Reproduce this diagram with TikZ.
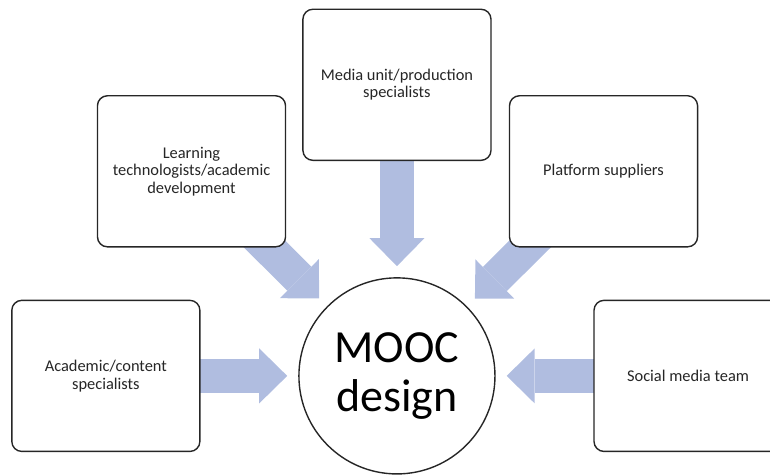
\documentclass[tikz,border=0pt]{standalone}
\usepackage{fontspec}
\setmainfont{Carlito}
\usetikzlibrary{arrows.meta, positioning, backgrounds}
\definecolor{flowblue}{HTML}{B0BDE0}
\definecolor{inkgrey}{HTML}{262626}

\tikzset{
  group/.style={draw=inkgrey, line width=1.4pt, fill=white, rounded corners=10pt,
    minimum width=6.61cm, minimum height=5.31cm, align=center, text=inkgrey,
    font=\fontsize{16.4}{17.5}\selectfont},
  flow/.style={draw=flowblue, line width=34pt, shorten >=11pt,
    -{Triangle[length=28pt, width=55pt, line width=0pt]}}
}

\begin{document}
\begin{tikzpicture}
  \useasboundingbox (-13.95,-3.48) rectangle (13.11,13.21);
  % centre
  \node[draw=inkgrey, line width=1.4pt, circle, minimum size=6.89cm, inner sep=0pt,
        align=center, font=\fontsize{46}{49}\selectfont] (mooc) at (0,0)
    {MOOC\\design};
  % contributing groups
  \node[group] (media) at (0,10.23) {Media unit/production\\specialists};
  \node[group] (learning) at (-7.22,7.19)
    {Learning\\technologists/academic\\development};
  \node[group] (platform) at (7.26,7.19) {Platform suppliers};
  \node[group] (academic) at (-10.23,0) {Academic/content\\specialists};
  \node[group] (social) at (10.23,0) {Social media team};
  % block arrows, tucked under the boxes
  \begin{scope}[on background layer]
    \draw[flow] (media.center) -- (mooc);
    \draw[flow] (learning.center) -- (mooc);
    \draw[flow] (platform.center) -- (mooc);
    \draw[flow] (academic.center) -- (mooc);
    \draw[flow] (social.center) -- (mooc);
  \end{scope}
\end{tikzpicture}
\end{document}
